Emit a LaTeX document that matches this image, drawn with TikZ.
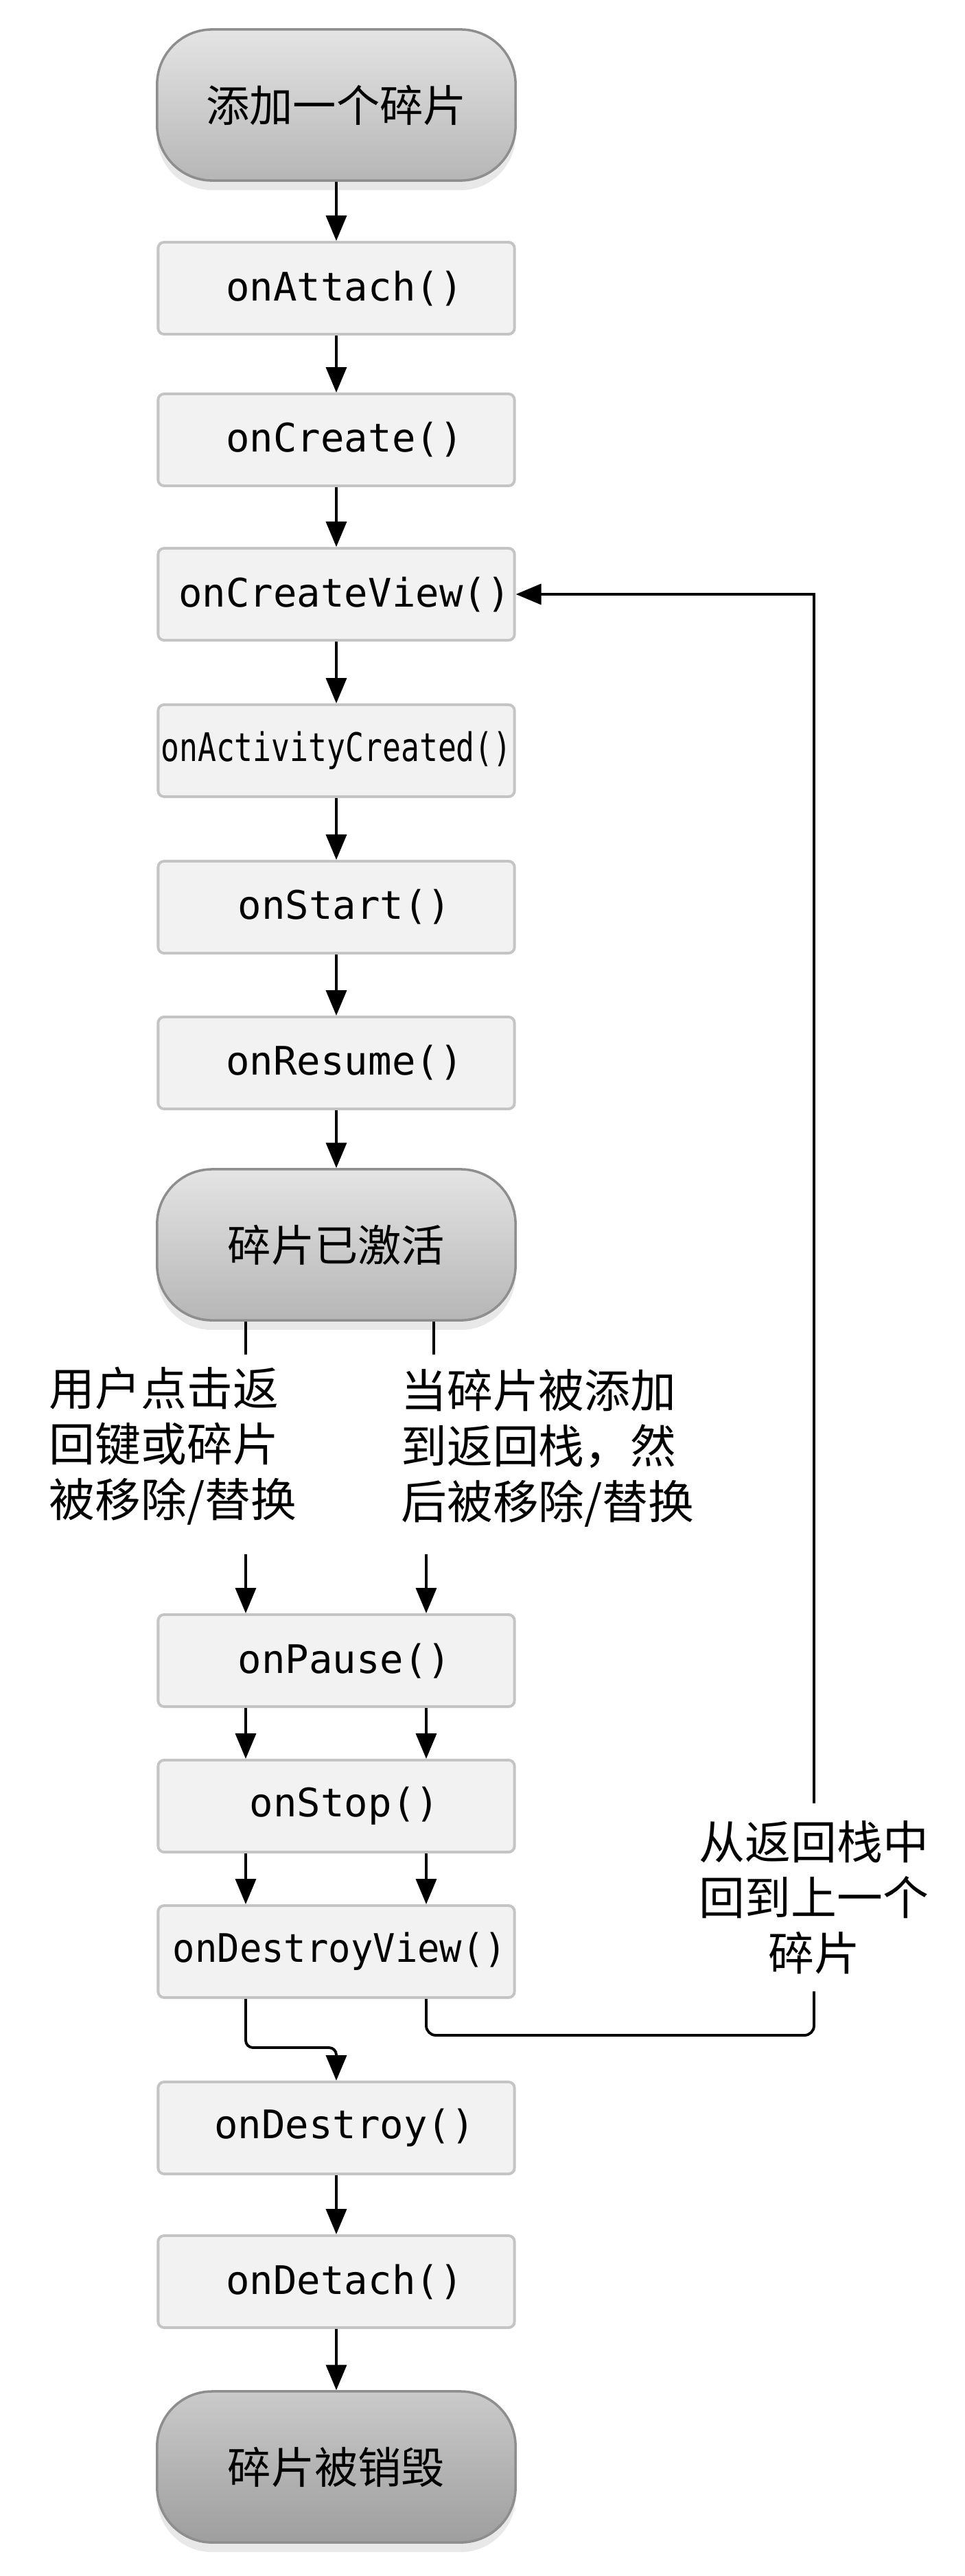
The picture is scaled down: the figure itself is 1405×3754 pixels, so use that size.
\documentclass[tikz,border=0pt]{standalone}
\usepackage{fontspec}
\usepackage{graphicx}
\setmonofont{DejaVu Sans Mono}
\newfontfamily\cjk{Noto Sans CJK SC}
\usetikzlibrary{arrows.meta,shadows}
\definecolor{boxfill}{HTML}{F2F2F2}
\definecolor{boxline}{HTML}{C4C4C4}
\definecolor{termline}{HTML}{8E8E8E}
\definecolor{termtop}{HTML}{E4E4E4}
\definecolor{termbot}{HTML}{B6B6B6}
\definecolor{endtop}{HTML}{CACACA}
\definecolor{endbot}{HTML}{9E9E9E}
\begin{document}
\begin{tikzpicture}[x=0.01cm,y=-0.01cm,
    call/.style={draw=boxline,fill=boxfill,line width=1.1pt,rounded corners=2.5pt,
      minimum width=5.19cm,minimum height=1.34cm,inner sep=0pt,
      font=\ttfamily\fontsize{16.3}{19}\selectfont},
    nudge/.style={execute at begin node=\hspace*{#1}},
    nudge/.default=0.24cm,
    term/.style={draw=termline,line width=1pt,rounded corners=0.8cm,
      minimum width=5.22cm,minimum height=2.2cm,top color=termtop,bottom color=termbot,
      drop shadow={opacity=0.18,shadow xshift=0pt,shadow yshift=-4pt},
      font=\cjk\fontsize{18}{22}\selectfont},
    note/.style={inner xsep=0pt,inner ysep=7pt,font=\cjk\fontsize{19}{23}\selectfont},
    flow/.style={line width=1.1pt,-{Triangle[length=10.5pt,width=8.5pt]}},
    wire/.style={line width=1.1pt}]
  \path[fill=white] (0,0) rectangle (1405,3754);
  \useasboundingbox (0,0) rectangle (1405,3754);

  \node[term] (add) at (490,153) {添加一个碎片};
  \node[call,nudge] (attach) at (490,420) {onAttach()};
  \node[call,nudge] (create) at (490,641) {onCreate()};
  \node[call,nudge] (createview) at (490,866) {onCreateView()};
  \node[call] (actcreated) at (490,1094) {\scalebox{0.78}[1]{onActivityCreated()}};
  \node[call,nudge] (start) at (490,1322) {onStart()};
  \node[call,nudge] (resume) at (490,1549) {onResume()};
  \node[term] (active) at (490,1814) {碎片已激活};
  \node[note,align=left] (userback) at (252,2107) {用户点击返\\回键或碎片\\被移除/替换};
  \node[note,align=left] (backstack) at (798,2110) {当碎片被添加\\到返回栈，然\\后被移除/替换};
  \node[call,nudge] (pause) at (490,2420) {onPause()};
  \node[call,nudge] (stop) at (490,2632) {onStop()};
  \node[call,nudge=0.1cm] (destroyview) at (490,2844) {\scalebox{0.94}[1]{onDestroyView()}};
  \node[note,align=center] (back) at (1186,2765) {从返回栈中\\回到上一个\\碎片};
  \node[call,nudge] (destroy) at (490,3101) {onDestroy()};
  \node[call,nudge] (detach) at (490,3325) {onDetach()};
  \node[term,top color=endtop,bottom color=endbot] (gone) at (490,3595) {碎片被销毁};

  \coordinate (la) at (358,1974);
  \coordinate (ra) at (632,1974);
  \coordinate (lb) at (358,2265);
  \coordinate (rb) at (621,2265);
  \coordinate (join) at (490,2984);
  \coordinate (turn) at (1186,2966);

  \foreach \a/\b in {add/attach,attach/create,create/createview,createview/actcreated,
      actcreated/start,start/resume,resume/active,destroy/detach,detach/gone}
    \draw[flow] (\a) -- (\b);

  \draw[wire] (active.south -| la) -- (la);
  \draw[wire] (active.south -| ra) -- (ra);
  \draw[flow] (lb) -- (pause.north -| lb);
  \draw[flow] (rb) -- (pause.north -| rb);
  \foreach \a/\b in {pause/stop,stop/destroyview} {
    \draw[flow] (\a.south -| lb) -- (\b.north -| lb);
    \draw[flow] (\a.south -| rb) -- (\b.north -| rb);
  }

  \draw[flow,rounded corners=3pt] (destroyview.south -| lb) |- (join) -- (destroy.north);
  \draw[wire,rounded corners=4pt] (destroyview.south -| rb) |- (turn) -- (back.south);
  \draw[flow] (back.north) |- (createview.east);
\end{tikzpicture}
\end{document}
